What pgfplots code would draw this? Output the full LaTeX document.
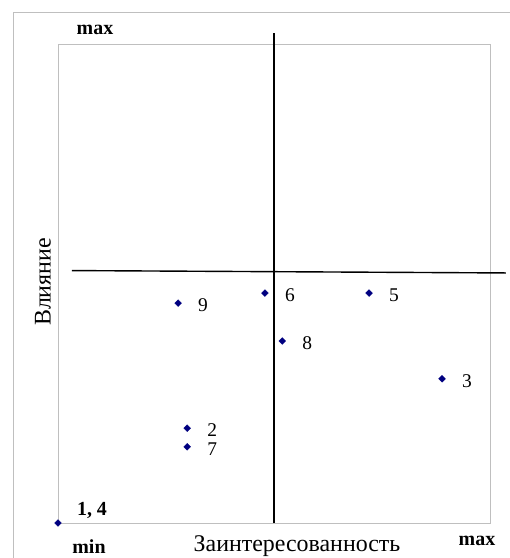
\documentclass[border=0pt]{standalone}
\usepackage{fontspec}
\setmainfont{Liberation Serif}
\usepackage{pgfplots}
\pgfplotsset{compat=1.18}
\definecolor{framegray}{RGB}{191,191,191}
\definecolor{ptblue}{RGB}{0,0,128}

\begin{document}
\begin{tikzpicture}
\useasboundingbox (-58bp,-35bp) rectangle (452bp,523bp);
% outer chart frame (runs off the right and bottom edges)
\draw[framegray, line width=0.8bp] (-45bp,-60bp) -- (-45bp,511bp) -- (480bp,511bp);
\begin{axis}[
  at={(0,0)}, anchor=south west,
  scale only axis, width=432bp, height=479bp,
  xmin=0, xmax=10, ymin=0, ymax=10,
  xtick=\empty, ytick=\empty,
  axis line style={framegray, line width=0.8bp},
  clip=false,
]
% quadrant lines
\addplot[black, line width=1.4bp] coordinates {(5,0) (5,10.23)};
\addplot[black, line width=1.4bp] coordinates {(0.32,5.27) (10.37,5.22)};
% stakeholders
\addplot[only marks, mark=square*, mark size=2.4bp, ptblue,
  mark options={rotate=45},
  nodes near coords, point meta=explicit symbolic,
  every node near coord/.style={font=\fontsize{19.5}{19.5}\selectfont, text=black,
    anchor=center, xshift=25bp, yshift=-2bp}]
  table[meta=lbl] {
x y lbl
2.78 4.59 9
4.79 4.80 6
7.20 4.80 5
5.19 3.80 8
8.89 3.01 3
2.99 1.98 2
2.99 1.59 7
};
\addplot[only marks, mark=square*, mark size=2.4bp, ptblue,
  mark options={rotate=45},
  nodes near coords, point meta=explicit symbolic,
  every node near coord/.style={font=\bfseries\fontsize{20}{20}\selectfont, text=black,
    anchor=center, xshift=34bp, yshift=13bp}]
  table[meta=lbl] {
x y lbl
0 0 {1, 4}
};
\end{axis}
\node[font=\bfseries\fontsize{20}{20}\selectfont] at (37bp,493bp) {max};
\node[font=\bfseries\fontsize{20}{20}\selectfont] at (31bp,-24bp) {min};
\node[font=\bfseries\fontsize{20}{20}\selectfont] at (419bp,-18bp) {max};
\node[font=\fontsize{24}{24}\selectfont] at (239bp,-23bp) {Заинтересованность};
\node[font=\fontsize{24}{24}\selectfont, rotate=90] at (-15bp,241bp) {Влияние};
\end{tikzpicture}
\end{document}
